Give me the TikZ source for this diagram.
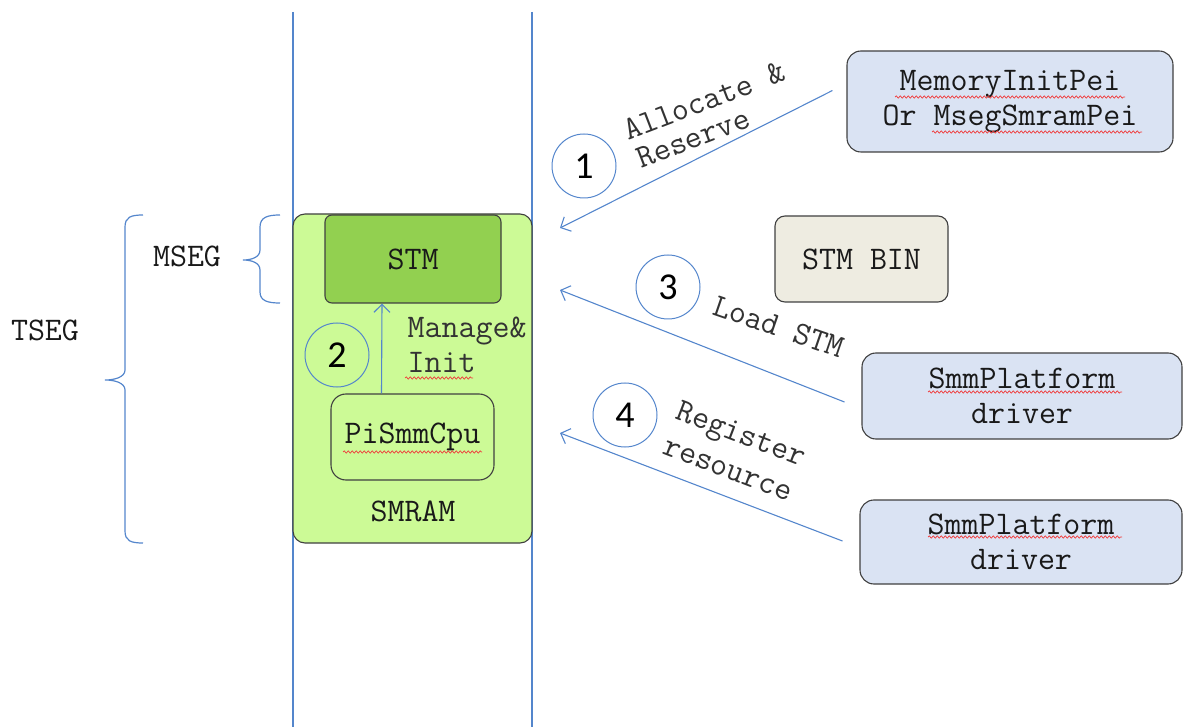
\documentclass[tikz,border=0pt]{standalone}
\usepackage{fontspec}
\usetikzlibrary{arrows.meta,decorations.pathmorphing}
\newfontfamily\numfont{Carlito}
\definecolor{wire}{RGB}{84,134,204}
\definecolor{frame}{RGB}{64,64,64}
\definecolor{smramgreen}{RGB}{204,250,150}
\definecolor{stmgreen}{RGB}{146,208,80}
\definecolor{paleblue}{RGB}{218,227,243}
\definecolor{binbeige}{RGB}{238,236,225}
\definecolor{squiggle}{RGB}{240,60,60}
\begin{document}
\begin{tikzpicture}[x=1pt,y=-1pt,
  every node/.style={font=\ttfamily\fontsize{33}{35}\selectfont, text=black!90},
  box/.style={draw=frame, line width=1.1pt, rounded corners=#1, inner sep=0pt, align=center},
  box/.default=10pt,
  flow/.style={draw=wire, line width=1.1pt, -{Straight Barb[length=8pt,width=16pt]}},
  badge/.style={circle, draw=wire, line width=1pt, minimum size=64pt, inner sep=0pt,
                font=\numfont\fontsize{38}{38}\selectfont, text=black},
  bracket/.style={draw=wire, line width=1.2pt},
  lane/.style={draw=wire, line width=1.3pt},
  tag/.style={anchor=base west, text=black!80},
  spell/.style={draw=squiggle, line width=0.7pt, decorate,
                decoration={snake, amplitude=1.1pt, segment length=4pt}}
]
\useasboundingbox (0,0) rectangle (1184,727);

% memory lanes
\draw[lane] (293,12) -- (293,727);
\draw[lane] (532,12) -- (532,727);

% SMRAM region and its contents
\node[box=12pt, fill=smramgreen, minimum width=239pt, minimum height=329pt] (smram) at (412.5,378.5) {};
\node (smramlbl) at (413,511) {SMRAM};
\node[box=7pt, fill=stmgreen, minimum width=176pt, minimum height=88pt] (stm) at (413,259) {STM};
\node[box=15pt, minimum width=163pt, minimum height=86pt] (pi) at (412.5,437) {PiSmmCpu};
\draw[flow] ([xshift=-31pt]pi.north) -- ([xshift=-31pt]stm.south);
\node[badge] (n2) at (337,355) {2};
\node[tag] (mng) at (404,338) {Manage\&};
\node[tag] (ini) at (404,373) {Init};

% segment brackets
\node (tseg) at (45,330) {TSEG};
\node (mseg) at (187,256) {MSEG};
\draw[bracket] (280,215) .. controls (268,215) and (260,217) .. (260,227) -- (260,250)
  .. controls (260,257) and (252,260) .. (243,260)
  .. controls (252,260) and (260,263) .. (260,270) -- (260,292)
  .. controls (260,301) and (268,303) .. (280,303);
\draw[bracket] (143,215) .. controls (131,215) and (125,217) .. (125,227) -- (125,370)
  .. controls (125,377) and (115,380) .. (105,380)
  .. controls (115,380) and (125,383) .. (125,390) -- (125,531)
  .. controls (125,541) and (131,543) .. (143,543);

% producers on the right
\node[box=14pt, fill=paleblue, minimum width=326pt, minimum height=101pt] (mip) at (1010,101.5)
  {MemoryInitPei\\Or MsegSmramPei};
\node[box=10pt, fill=binbeige, minimum width=173pt, minimum height=86pt] (bin) at (861.5,259) {STM BIN};
\node[box=14pt, fill=paleblue, minimum width=320pt, minimum height=86pt] (sp1) at (1022,396)
  {SmmPlatform\\driver};
\node[box=14pt, fill=paleblue, minimum width=322pt, minimum height=84pt] (sp2) at (1021,542)
  {SmmPlatform\\driver};

% flows into SMRAM
\coordinate (t1) at (560,228);
\coordinate (t3) at (560,290);
\coordinate (t4) at (560,433);
\draw[flow] ([shift={(-14pt,11pt)}]mip.west) -- (t1);
\draw[flow] ([shift={(-17pt,-6pt)}]sp1.west) -- (t3);
\draw[flow] ([shift={(-17pt,1pt)}]sp2.west) -- (t4);

\node[badge] (n1) at (584,166) {1};
\node[badge] (n3) at (668,287) {3};
\node[badge] (n4) at (625,415) {4};

\node[tag, rotate=21] (alloc) at (625,142) {Allocate \&};
\node[tag, rotate=21] (resv) at (638,170) {Reserve};
\node[tag, rotate=-19] (load) at (708,313) {Load STM};
\node[tag, rotate=-21] (reg) at (671,417) {Register};
\node[tag, rotate=-21] (res) at (658,452) {resource};

% spelling marks under identifiers
\draw[spell] (895,97) -- (1125,97);
\draw[spell] (932,132) -- (1142,132);
\draw[spell] (928,392) -- (1122,392);
\draw[spell] (928,537) -- (1122,537);
\draw[spell] (343,452) -- (482,452);
\draw[spell] (405,378) -- (473,378);
\end{tikzpicture}
\end{document}
